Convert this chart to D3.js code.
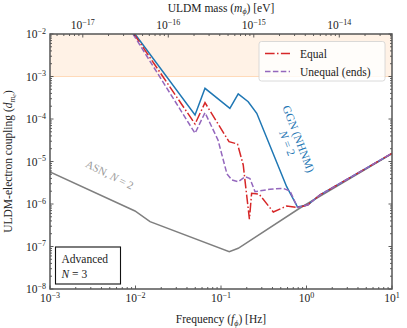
<!DOCTYPE html>
<html><head><meta charset="utf-8">
<script src="https://cdn.jsdelivr.net/npm/d3@7"></script>
<style>
body{margin:0;background:#fff}
text{font-family:"Liberation Serif","DejaVu Serif",serif;fill:#222}
</style></head><body><div id="chart"></div>
<script>
// DATA
const freqGGN   = [0.00986, 0.0497, 0.065, 0.127, 0.159, 0.208, 0.262, 0.586, 0.785, 1.03, 1.44, 10]
const coupGGN   = [1.0e-2, 1.24e-4, 5.27e-4, 1.79e-4, 3.88e-4, 2.55e-4, 1.36e-4, 2.55e-6, 8.5e-7, 9.5e-7, 1.63e-6, 1.56e-5]
const freqEqual = [0.0096, 0.0497, 0.065, 0.124, 0.156, 0.182, 0.215, 0.228, 0.278, 0.409, 0.586, 0.785, 1.03, 1.44, 10]
const coupEqual = [1e-2, 7.62e-5, 2.42e-4, 2.92e-5, 2.58e-5, 8.28e-6, 4.37e-7, 1.79e-6, 1.72e-6, 6.49e-7, 8.97e-7, 8.28e-7, 9.5e-7, 1.63e-6, 1.56e-5]
const freqUneq  = [0.00935, 0.0497, 0.065, 0.0922, 0.1175, 0.1345, 0.159, 0.191, 0.218, 0.25, 0.374, 0.531, 0.641, 0.785, 1.03, 1.44, 10]
const coupUneq  = [1e-2, 4.61e-5, 1.41e-4, 3.21e-5, 5.08e-6, 3.67e-6, 3.35e-6, 4.38e-6, 3.98e-6, 1.95e-6, 2.22e-6, 2.34e-6, 2.02e-6, 8.28e-7, 9.5e-7, 1.63e-6, 1.56e-5]
const freqASN   = [1e-3, 0.00986, 0.01479, 0.125, 0.159, 0.839, 10]
const coupASN   = [5.66e-6, 6.84e-7, 3.84e-7, 7.55e-8, 9.08e-8, 8.05e-7, 1.54e-5]
const excluded  = [1e-3, 1e-2]
const xTicks    = [1e-3, 1e-2, 1e-1, 1, 10]
const yTicks    = [1e-8, 1e-7, 1e-6, 1e-5, 1e-4, 1e-3, 1e-2]
const massTicks = [1e-17, 1e-16, 1e-15, 1e-14]
const legendNames = ["Equal", "Unequal (ends)"]

const H_EV = 4.135667696e-15   // eV per Hz

//MARGIN CONVENTION
const MARGIN = {LEFT: 50, RIGHT: 15, TOP: 34, BOTTOM: 39}
const W = 407, HT = 328
const PLOT = {W: W - MARGIN.LEFT - MARGIN.RIGHT, H: HT - MARGIN.TOP - MARGIN.BOTTOM}

const svg = d3.select("#chart").append("svg").attr("width", W).attr("height", HT)

//SCALES
const x = d3.scaleLog().domain([1e-3, 10]).range([MARGIN.LEFT, MARGIN.LEFT + PLOT.W])
const y = d3.scaleLog().domain([1e-8, 1e-2]).range([MARGIN.TOP + PLOT.H, MARGIN.TOP])
const xm = d3.scaleLog().domain([1e-3 * H_EV, 10 * H_EV]).range(x.range())

svg.append("clipPath").attr("id", "clip").append("rect")
  .attr("x", MARGIN.LEFT).attr("y", MARGIN.TOP).attr("width", PLOT.W).attr("height", PLOT.H)

// excluded band
svg.append("rect")
  .attr("x", MARGIN.LEFT).attr("width", PLOT.W)
  .attr("y", y(excluded[1])).attr("height", y(excluded[0]) - y(excluded[1]))
  .attr("fill", "#ff7f0e").attr("fill-opacity", 0.1)
svg.append("line")
  .attr("x1", MARGIN.LEFT).attr("x2", MARGIN.LEFT + PLOT.W)
  .attr("y1", y(excluded[0])).attr("y2", y(excluded[0]))
  .attr("stroke", "#ff7f0e").attr("stroke-opacity", 0.25).attr("stroke-width", 1)

const gLines = svg.append("g").attr("clip-path", "url(#clip)")
const line = d3.line().x(d => x(d[0])).y(d => y(d[1]))

function drawCurve(fs, cs, color, dash) {
  gLines.append("path")
    .attr("d", line(fs.map((f, i) => [f, cs[i]])))
    .attr("fill", "none").attr("stroke", color).attr("stroke-width", 1.5)
    .attr("stroke-dasharray", dash)
}
drawCurve(freqASN, coupASN, "#7f7f7f", null)
drawCurve(freqGGN, coupGGN, "#1f77b4", null)
drawCurve(freqEqual, coupEqual, "#d62728", "9.6,2.4,1.5,2.4")
drawCurve(freqUneq, coupUneq, "#9467bd", "5.5,2.4")

// TICKS
function minors(lo, hi) {
  const out = []
  for (let e = lo; e < hi; e++) for (let k = 2; k <= 9; k++) out.push(k * Math.pow(10, e))
  return out
}
function supLabel(g, v, xx, yy, anchor) {
  const e = Math.round(Math.log10(v))
  const t = g.append("text").attr("x", xx).attr("y", yy).attr("text-anchor", anchor).attr("font-size", 11.5)
  t.append("tspan").text("10")
  t.append("tspan").attr("dy", -4.5).attr("font-size", 8).text(e < 0 ? "\u2212" + (-e) : e)
}
const gAx = svg.append("g").attr("stroke", "#333").attr("stroke-width", 0.8)
const yTop = MARGIN.TOP, yBot = MARGIN.TOP + PLOT.H, xLft = MARGIN.LEFT, xRgt = MARGIN.LEFT + PLOT.W

xTicks.forEach(v => {
  gAx.append("line").attr("x1", x(v)).attr("x2", x(v)).attr("y1", yBot).attr("y2", yBot - 3.5)
})
minors(-3, 1).forEach(v => {
  gAx.append("line").attr("x1", x(v)).attr("x2", x(v)).attr("y1", yBot).attr("y2", yBot - 2)
})
massTicks.forEach(v => {
  gAx.append("line").attr("x1", xm(v)).attr("x2", xm(v)).attr("y1", yTop).attr("y2", yTop + 3.5)
})
minors(-18, -13).filter(v => v > xm.domain()[0] && v < xm.domain()[1]).forEach(v => {
  gAx.append("line").attr("x1", xm(v)).attr("x2", xm(v)).attr("y1", yTop).attr("y2", yTop + 2)
})
yTicks.forEach(v => {
  gAx.append("line").attr("x1", xLft).attr("x2", xLft + 3.5).attr("y1", y(v)).attr("y2", y(v))
  gAx.append("line").attr("x1", xRgt).attr("x2", xRgt - 3.5).attr("y1", y(v)).attr("y2", y(v))
})
minors(-8, -2).forEach(v => {
  gAx.append("line").attr("x1", xLft).attr("x2", xLft + 2).attr("y1", y(v)).attr("y2", y(v))
  gAx.append("line").attr("x1", xRgt).attr("x2", xRgt - 2).attr("y1", y(v)).attr("y2", y(v))
})

// frame
svg.append("rect").attr("x", xLft).attr("y", yTop).attr("width", PLOT.W).attr("height", PLOT.H)
  .attr("fill", "none").attr("stroke", "#555").attr("stroke-width", 1.5)

const gLab = svg.append("g")
xTicks.forEach(v => supLabel(gLab, v, x(v), yBot + 13, "middle"))
yTicks.forEach(v => supLabel(gLab, v, xLft - 4, y(v) + 4, "end"))
massTicks.forEach(v => supLabel(gLab, v, xm(v), yTop - 5, "middle"))

// AXIS TITLES
const xt = svg.append("text").attr("x", (xLft + xRgt) / 2).attr("y", 323).attr("text-anchor", "middle").attr("font-size", 11.5)
xt.append("tspan").text("Frequency (")
xt.append("tspan").attr("font-style", "italic").text("f")
xt.append("tspan").attr("dy", 2.5).attr("font-size", 8).attr("font-style", "italic").text("\u03d5")
xt.append("tspan").attr("dy", -2.5).text(") [Hz]")

const tt = svg.append("text").attr("x", (xLft + xRgt) / 2).attr("y", 12).attr("text-anchor", "middle").attr("font-size", 11.5)
tt.append("tspan").text("ULDM mass (")
tt.append("tspan").attr("font-style", "italic").text("m")
tt.append("tspan").attr("dy", 2).attr("font-size", 8).attr("font-style", "italic").text("\u03d5")
tt.append("tspan").attr("dy", -2).text(") [eV]")

const yt = svg.append("text").attr("transform", `translate(12,${(yTop + yBot) / 2}) rotate(-90)`)
  .attr("text-anchor", "middle").attr("font-size", 11.5)
yt.append("tspan").text("ULDM-electron coupling (")
yt.append("tspan").attr("font-style", "italic").text("d")
yt.append("tspan").attr("dy", 2.5).attr("font-size", 8).attr("font-style", "italic").text("m")
yt.append("tspan").attr("dy", 1.5).attr("font-size", 6).attr("font-style", "italic").text("e")
yt.append("tspan").attr("dy", -4).text(")")

// CURVE ANNOTATIONS
const asn = svg.append("text").attr("transform", "translate(108,178) rotate(26.5)")
  .attr("text-anchor", "middle").attr("font-size", 11).style("fill", "#999")
asn.append("tspan").text("ASN, ")
asn.append("tspan").attr("font-style", "italic").text("N")
asn.append("tspan").text(" = 2")

const ggn = svg.append("g").attr("transform", "translate(293,141) rotate(69)")
ggn.append("text").attr("text-anchor", "middle").attr("y", -2).attr("font-size", 11.5).style("fill", "#1f77b4").text("GGN (NHNM)")
const ggn2 = ggn.append("text").attr("text-anchor", "middle").attr("y", 10).attr("font-size", 11.5).style("fill", "#1f77b4")
ggn2.append("tspan").attr("font-style", "italic").text("N")
ggn2.append("tspan").text(" = 2")

// LEGEND
const lg = svg.append("g").attr("transform", "translate(259,41.5)")
lg.append("rect").attr("width", 126).attr("height", 39.5).attr("rx", 2.5)
  .attr("fill", "#fff").attr("fill-opacity", 0.8).attr("stroke", "#d0d0d0").attr("stroke-width", 0.8)
const legColors = ["#d62728", "#9467bd"], legDash = ["9.6,2.4,1.5,2.4", "5.5,2.4"]
legendNames.forEach((n, i) => {
  const yy = 12 + i * 18
  lg.append("line").attr("x1", 6).attr("x2", 31).attr("y1", yy).attr("y2", yy)
    .attr("stroke", legColors[i]).attr("stroke-width", 1.5).attr("stroke-dasharray", legDash[i])
  lg.append("text").attr("x", 41).attr("y", yy + 4).attr("font-size", 11.5).text(n)
})

// ADVANCED BOX
const ab = svg.append("g").attr("transform", "translate(55.5,247)")
ab.append("rect").attr("width", 65).attr("height", 37).attr("fill", "#fff").attr("stroke", "#111").attr("stroke-width", 1.1)
ab.append("text").attr("x", 6).attr("y", 16).attr("font-size", 11.5).text("Advanced")
const ab2 = ab.append("text").attr("x", 6).attr("y", 31).attr("font-size", 11.5)
ab2.append("tspan").attr("font-style", "italic").text("N")
ab2.append("tspan").text(" = 3")
</script></body></html>
